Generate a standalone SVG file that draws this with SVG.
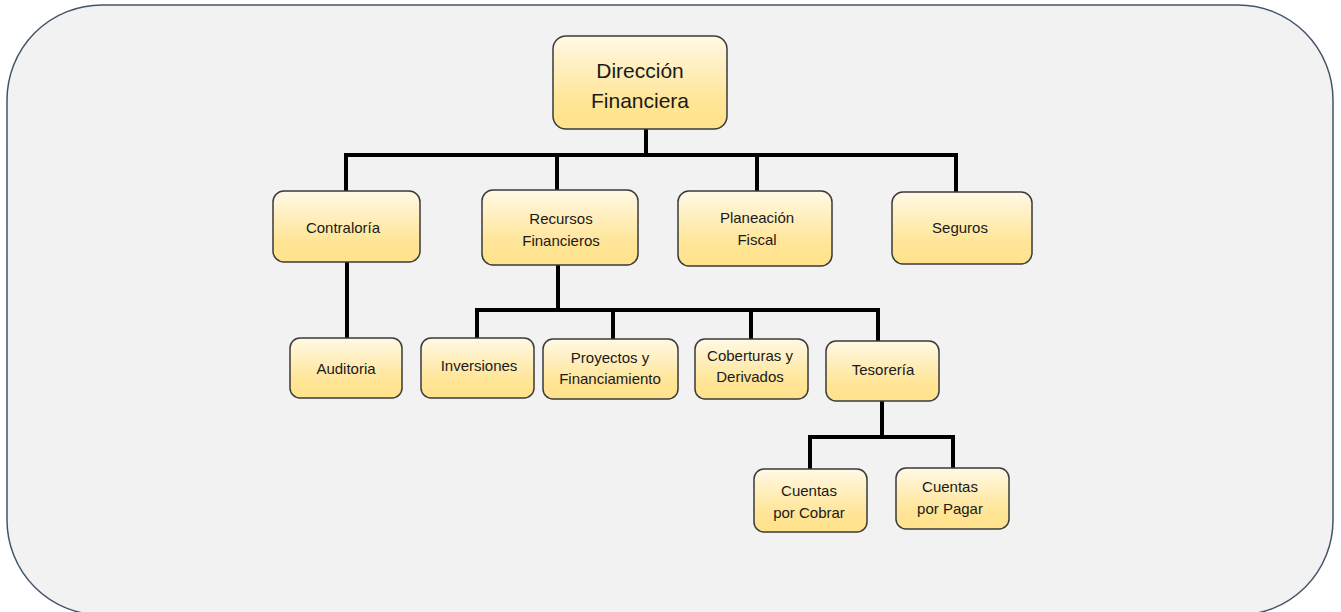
<svg xmlns="http://www.w3.org/2000/svg" width="1341" height="612" viewBox="0 0 1341 612">
<defs>
<linearGradient id="g" x1="0" y1="0" x2="0" y2="1">
<stop offset="0" stop-color="#fff9e6"/>
<stop offset="0.7" stop-color="#ffe597"/>
<stop offset="1" stop-color="#ffe28a"/>
</linearGradient>
<style>
.n{fill:url(#g);stroke:#3a3a3a;stroke-width:1.5}
.t{font-family:"Liberation Sans",Arial,sans-serif;font-size:15px;fill:#1a1a1a;text-anchor:middle}
.big{font-size:21px}
.c{fill:none;stroke:#000;stroke-width:4;stroke-linejoin:miter}
</style>
</defs>
<rect x="7" y="5" width="1326" height="610" rx="95" ry="95" fill="#f2f2f2" stroke="#44546a" stroke-width="1.5"/>
<g id="connectors">
<path class="c" d="M646 129V155M346 191V155H956V192M557 155V190M757 155V191"/>
<path class="c" d="M347 262V338"/>
<path class="c" d="M558 265V310M477 338V310H878V341M613 310V339M751 310V339"/>
<path class="c" d="M882 401V437M810 469V437H953V468"/>
</g>
<g id="direccion"><rect class="n" x="553" y="36" width="174" height="93" rx="13"/><text class="t big" x="640" y="78">Dirección</text><text class="t big" x="640" y="108">Financiera</text></g>
<g id="contraloria"><rect class="n" x="273" y="191" width="147" height="71" rx="11"/><text class="t" x="343" y="233">Contraloría</text></g>
<g id="recursos"><rect class="n" x="482" y="190" width="156" height="75" rx="11"/><text class="t" x="561" y="224">Recursos</text><text class="t" x="561" y="246">Financieros</text></g>
<g id="planeacion"><rect class="n" x="678" y="191" width="154" height="75" rx="11"/><text class="t" x="757" y="223">Planeación</text><text class="t" x="757" y="245">Fiscal</text></g>
<g id="seguros"><rect class="n" x="892" y="192" width="140" height="72" rx="11"/><text class="t" x="960" y="233">Seguros</text></g>
<g id="auditoria"><rect class="n" x="290" y="338" width="112" height="60" rx="10"/><text class="t" x="346" y="374">Auditoria</text></g>
<g id="inversiones"><rect class="n" x="421" y="338" width="113" height="60" rx="10"/><text class="t" x="479" y="371">Inversiones</text></g>
<g id="proyectos"><rect class="n" x="543" y="339" width="135" height="60" rx="10"/><text class="t" x="610" y="363">Proyectos y</text><text class="t" x="610" y="384">Financiamiento</text></g>
<g id="coberturas"><rect class="n" x="695" y="339" width="113" height="60" rx="10"/><text class="t" x="750" y="361">Coberturas y</text><text class="t" x="750" y="382">Derivados</text></g>
<g id="tesoreria"><rect class="n" x="826" y="341" width="113" height="60" rx="10"/><text class="t" x="883" y="375">Tesorería</text></g>
<g id="cobrar"><rect class="n" x="754" y="469" width="113" height="63" rx="10"/><text class="t" x="809" y="496">Cuentas</text><text class="t" x="809" y="518">por Cobrar</text></g>
<g id="pagar"><rect class="n" x="896" y="468" width="113" height="61" rx="10"/><text class="t" x="950" y="492">Cuentas</text><text class="t" x="950" y="514">por Pagar</text></g>
</svg>
